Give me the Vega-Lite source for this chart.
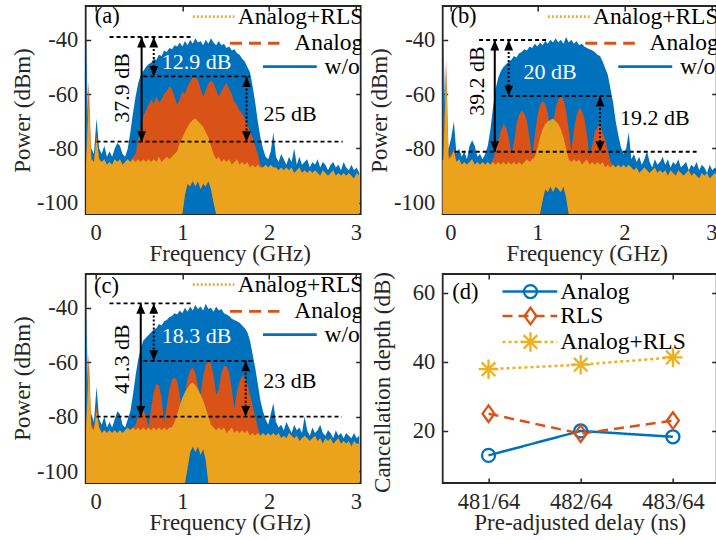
{
"$schema": "https://vega.github.io/schema/vega-lite/v6.json",
"padding": {"left": 10.7, "top": 4, "right": -2, "bottom": 4},
"columns": 2,
"spacing": {"row": 60, "column": 82},
"bounds": "flush",
"resolve": {"scale": {"color": "independent", "strokeDash": "independent", "shape": "independent", "size": "independent"}},
"config": {
 "font": "Liberation Serif",
 "view": {"stroke": "#262626", "strokeWidth": 1.8},
 "axis": {"domain": false, "grid": false, "ticks": true, "tickSize": -5, "tickWidth": 1.5, "tickColor": "#262626", "labelFont": "Liberation Serif", "labelFontSize": 22.5, "labelColor": "#262626", "labelOverlap": false, "labelFlush": false, "titleFont": "Liberation Serif", "titleFontSize": 23, "titleFontWeight": "normal", "titleColor": "#262626"},
 "axisX": {"labelPadding": 12.5},
 "axisY": {"labelPadding": 13},
 "text": {"font": "Liberation Serif"}
},
"datasets": {
"a": [
{"f":-0.11,"w":-40,"o":-86,"y":-86,"l":-104.1},{"f":-0.08,"w":-82,"o":-55,"y":-62,"l":-104.1},{"f":-0.05,"w":-80,"o":-84,"y":-84,"l":-104.1},{"f":-0.02,"w":-82,"o":-85,"y":-85,"l":-104.1},{"f":0.01,"w":-69,"o":-75,"y":-76,"l":-104.1},{"f":0.04,"w":-80,"o":-84,"y":-84,"l":-104.1},{"f":0.07,"w":-82,"o":-85,"y":-85,"l":-104.1},{"f":0.10,"w":-79,"o":-84,"y":-84,"l":-104.1},{"f":0.13,"w":-83,"o":-86,"y":-86,"l":-104.1},{"f":0.16,"w":-81,"o":-85,"y":-85,"l":-104.1},{"f":0.19,"w":-83,"o":-86,"y":-86,"l":-104.1},{"f":0.22,"w":-80,"o":-84,"y":-84,"l":-104.1},{"f":0.25,"w":-78,"o":-85,"y":-85,"l":-104.1},{"f":0.28,"w":-79,"o":-84,"y":-84,"l":-104.1},{"f":0.31,"w":-82,"o":-86,"y":-86,"l":-104.1},{"f":0.34,"w":-83,"o":-85,"y":-85,"l":-104.1},{"f":0.37,"w":-80,"o":-84,"y":-84,"l":-104.1},{"f":0.40,"w":-74,"o":-85,"y":-85,"l":-104.1},{"f":0.43,"w":-67,"o":-83,"y":-84,"l":-104.1},{"f":0.46,"w":-61,"o":-82,"y":-85,"l":-104.1},{"f":0.49,"w":-56,"o":-77,"y":-84,"l":-104.1},{"f":0.52,"w":-53,"o":-72,"y":-85,"l":-104.1},{"f":0.55,"w":-51.5,"o":-68,"y":-84,"l":-104.1},{"f":0.58,"w":-50,"o":-66,"y":-85,"l":-104.1},{"f":0.61,"w":-49,"o":-64,"y":-84,"l":-104.1},{"f":0.64,"w":-48.5,"o":-62,"y":-85,"l":-104.1},{"f":0.67,"w":-47,"o":-63.5,"y":-84,"l":-104.1},{"f":0.70,"w":-47.5,"o":-61,"y":-85,"l":-104.1},{"f":0.73,"w":-45.5,"o":-63,"y":-83,"l":-104.1},{"f":0.76,"w":-46,"o":-62,"y":-85,"l":-104.1},{"f":0.79,"w":-44,"o":-60,"y":-84,"l":-104.1},{"f":0.82,"w":-44.5,"o":-59,"y":-83,"l":-104.1},{"f":0.85,"w":-43,"o":-57,"y":-84,"l":-104.1},{"f":0.88,"w":-43.5,"o":-58,"y":-83,"l":-104.1},{"f":0.91,"w":-42,"o":-61,"y":-82,"l":-104.1},{"f":0.94,"w":-42.5,"o":-64,"y":-81,"l":-104.1},{"f":0.97,"w":-41,"o":-62,"y":-78,"l":-104.1},{"f":1.00,"w":-42.5,"o":-59,"y":-76,"l":-104.1},{"f":1.03,"w":-40.5,"o":-60,"y":-74,"l":-97},{"f":1.06,"w":-42,"o":-57,"y":-72,"l":-93},{"f":1.09,"w":-40,"o":-55.5,"y":-70.5,"l":-94},{"f":1.12,"w":-41.5,"o":-54,"y":-69.5,"l":-92},{"f":1.15,"w":-39.5,"o":-53.5,"y":-69,"l":-94},{"f":1.18,"w":-41,"o":-55,"y":-70,"l":-92},{"f":1.21,"w":-40.5,"o":-58,"y":-71,"l":-95},{"f":1.24,"w":-42,"o":-61,"y":-72,"l":-93},{"f":1.27,"w":-40,"o":-58.5,"y":-74,"l":-94},{"f":1.30,"w":-41.5,"o":-56,"y":-76,"l":-92},{"f":1.33,"w":-39.5,"o":-55,"y":-79,"l":-95},{"f":1.36,"w":-41,"o":-56,"y":-82,"l":-100},{"f":1.39,"w":-42,"o":-58.5,"y":-84,"l":-104.1},{"f":1.42,"w":-40.5,"o":-61,"y":-83,"l":-104.1},{"f":1.45,"w":-42,"o":-59,"y":-85,"l":-104.1},{"f":1.48,"w":-41.5,"o":-57,"y":-84,"l":-104.1},{"f":1.51,"w":-43,"o":-56,"y":-85,"l":-104.1},{"f":1.54,"w":-42.5,"o":-58,"y":-84,"l":-104.1},{"f":1.57,"w":-44,"o":-60,"y":-86,"l":-104.1},{"f":1.60,"w":-43.5,"o":-63,"y":-85,"l":-104.1},{"f":1.63,"w":-45,"o":-64,"y":-84,"l":-104.1},{"f":1.66,"w":-45.5,"o":-66,"y":-86,"l":-104.1},{"f":1.69,"w":-47,"o":-67,"y":-85,"l":-104.1},{"f":1.72,"w":-48,"o":-69,"y":-86,"l":-104.1},{"f":1.75,"w":-50,"o":-71,"y":-85,"l":-104.1},{"f":1.78,"w":-52,"o":-74,"y":-87,"l":-104.1},{"f":1.81,"w":-57,"o":-76,"y":-86,"l":-104.1},{"f":1.84,"w":-63,"o":-79,"y":-87,"l":-104.1},{"f":1.87,"w":-70,"o":-82,"y":-86,"l":-104.1},{"f":1.90,"w":-76,"o":-86,"y":-87,"l":-104.1},{"f":1.93,"w":-80,"o":-87,"y":-87,"l":-104.1},{"f":1.96,"w":-83,"o":-86,"y":-86,"l":-104.1},{"f":1.99,"w":-84,"o":-87,"y":-87,"l":-104.1},{"f":2.02,"w":-81,"o":-86,"y":-86,"l":-104.1},{"f":2.05,"w":-74,"o":-87,"y":-87,"l":-104.1},
{"f":2.08,"w":-83,"o":-87,"y":-87,"l":-104.1},{"f":2.11,"w":-85,"o":-88,"y":-88,"l":-104.1},{"f":2.14,"w":-82,"o":-87,"y":-87,"l":-104.1},{"f":2.17,"w":-84,"o":-88,"y":-88,"l":-104.1},{"f":2.20,"w":-86,"o":-87,"y":-87,"l":-104.1},{"f":2.23,"w":-83,"o":-88,"y":-88,"l":-104.1},{"f":2.26,"w":-85,"o":-87,"y":-87,"l":-104.1},{"f":2.29,"w":-80,"o":-89,"y":-89,"l":-104.1},{"f":2.32,"w":-86,"o":-88,"y":-88,"l":-104.1},{"f":2.35,"w":-83,"o":-87,"y":-87,"l":-104.1},{"f":2.38,"w":-86,"o":-89,"y":-89,"l":-104.1},{"f":2.41,"w":-85,"o":-88,"y":-88,"l":-104.1},{"f":2.44,"w":-84,"o":-89,"y":-89,"l":-104.1},{"f":2.47,"w":-87,"o":-88,"y":-88,"l":-104.1},{"f":2.50,"w":-85,"o":-89,"y":-89,"l":-104.1},{"f":2.53,"w":-86,"o":-88,"y":-88,"l":-104.1},{"f":2.56,"w":-84,"o":-89,"y":-89,"l":-104.1},{"f":2.59,"w":-87,"o":-90,"y":-90,"l":-104.1},{"f":2.62,"w":-85,"o":-88,"y":-88,"l":-104.1},{"f":2.65,"w":-86,"o":-89,"y":-89,"l":-104.1},{"f":2.68,"w":-88,"o":-90,"y":-90,"l":-104.1},{"f":2.71,"w":-86,"o":-89,"y":-89,"l":-104.1},{"f":2.74,"w":-85,"o":-88,"y":-88,"l":-104.1},{"f":2.77,"w":-87,"o":-90,"y":-90,"l":-104.1},{"f":2.80,"w":-86,"o":-89,"y":-89,"l":-104.1},{"f":2.83,"w":-88,"o":-90,"y":-90,"l":-104.1},{"f":2.86,"w":-85,"o":-89,"y":-89,"l":-104.1},{"f":2.89,"w":-87,"o":-90,"y":-90,"l":-104.1},{"f":2.92,"w":-88,"o":-89,"y":-89,"l":-104.1},{"f":2.95,"w":-86,"o":-90,"y":-90,"l":-104.1},{"f":2.98,"w":-88,"o":-91,"y":-91,"l":-104.1},{"f":3.01,"w":-87,"o":-89,"y":-89,"l":-104.1},{"f":3.04,"w":-89,"o":-90,"y":-90,"l":-104.1}
],
"b": [
{"f":-0.11,"w":-82,"o":-85,"y":-85,"l":-104.1},{"f":-0.08,"w":-40,"o":-84,"y":-84,"l":-104.1},{"f":-0.05,"w":-81,"o":-47,"y":-52,"l":-104.1},{"f":-0.02,"w":-80,"o":-83,"y":-84,"l":-104.1},{"f":0.01,"w":-76,"o":-82,"y":-83,"l":-104.1},{"f":0.04,"w":-70,"o":-80,"y":-81,"l":-104.1},{"f":0.07,"w":-82,"o":-85,"y":-85,"l":-104.1},{"f":0.10,"w":-80,"o":-84,"y":-84,"l":-104.1},{"f":0.13,"w":-83,"o":-86,"y":-86,"l":-104.1},{"f":0.16,"w":-81,"o":-85,"y":-85,"l":-104.1},{"f":0.19,"w":-84,"o":-86,"y":-86,"l":-104.1},{"f":0.22,"w":-79,"o":-85,"y":-85,"l":-104.1},{"f":0.25,"w":-77,"o":-84,"y":-84,"l":-104.1},{"f":0.28,"w":-79,"o":-86,"y":-86,"l":-104.1},{"f":0.31,"w":-83,"o":-85,"y":-85,"l":-104.1},{"f":0.34,"w":-82,"o":-86,"y":-86,"l":-104.1},{"f":0.37,"w":-84,"o":-85,"y":-85,"l":-104.1},{"f":0.40,"w":-82,"o":-86,"y":-86,"l":-104.1},{"f":0.43,"w":-79,"o":-85,"y":-85,"l":-104.1},{"f":0.46,"w":-73,"o":-86,"y":-86,"l":-104.1},{"f":0.49,"w":-65,"o":-84,"y":-85,"l":-104.1},{"f":0.52,"w":-58,"o":-81,"y":-86,"l":-104.1},{"f":0.55,"w":-54,"o":-77,"y":-85,"l":-104.1},{"f":0.58,"w":-51.5,"o":-73.5,"y":-86,"l":-104.1},{"f":0.61,"w":-50,"o":-71,"y":-85,"l":-104.1},{"f":0.64,"w":-49,"o":-72,"y":-86,"l":-104.1},{"f":0.67,"w":-48,"o":-76,"y":-85,"l":-104.1},{"f":0.70,"w":-47.5,"o":-82,"y":-86,"l":-104.1},{"f":0.73,"w":-46,"o":-78,"y":-85,"l":-104.1},{"f":0.76,"w":-46.5,"o":-71,"y":-86,"l":-104.1},{"f":0.79,"w":-45,"o":-67.5,"y":-85,"l":-104.1},{"f":0.82,"w":-44.5,"o":-66,"y":-86,"l":-104.1},{"f":0.85,"w":-43.5,"o":-67,"y":-85,"l":-104.1},{"f":0.88,"w":-44,"o":-70,"y":-84,"l":-104.1},{"f":0.91,"w":-42.5,"o":-76,"y":-85,"l":-104.1},{"f":0.94,"w":-43,"o":-83,"y":-84,"l":-104.1},{"f":0.97,"w":-41.5,"o":-75,"y":-83,"l":-104.1},{"f":1.00,"w":-42.5,"o":-68,"y":-80,"l":-104.1},{"f":1.03,"w":-41,"o":-64,"y":-76,"l":-104.1},{"f":1.06,"w":-42,"o":-62.5,"y":-73,"l":-99},{"f":1.09,"w":-40.5,"o":-63.5,"y":-71,"l":-95},{"f":1.12,"w":-41.5,"o":-67,"y":-70,"l":-96},{"f":1.15,"w":-40,"o":-74,"y":-69.5,"l":-94},{"f":1.18,"w":-41,"o":-71,"y":-69,"l":-96},{"f":1.21,"w":-39.5,"o":-65,"y":-70,"l":-94},{"f":1.24,"w":-41,"o":-62,"y":-71,"l":-95},{"f":1.27,"w":-40,"o":-60.8,"y":-73,"l":-96},{"f":1.30,"w":-41.5,"o":-62,"y":-76,"l":-94},{"f":1.33,"w":-39,"o":-66,"y":-80,"l":-98},{"f":1.36,"w":-41,"o":-73,"y":-84,"l":-104.1},{"f":1.39,"w":-40,"o":-81,"y":-85,"l":-104.1},{"f":1.42,"w":-41.5,"o":-73,"y":-84,"l":-104.1},{"f":1.45,"w":-40.5,"o":-68,"y":-85,"l":-104.1},{"f":1.48,"w":-42,"o":-65,"y":-84,"l":-104.1},{"f":1.51,"w":-41.5,"o":-66,"y":-86,"l":-104.1},{"f":1.54,"w":-42.5,"o":-69,"y":-85,"l":-104.1},{"f":1.57,"w":-43,"o":-75,"y":-84,"l":-104.1},{"f":1.60,"w":-43.5,"o":-83,"y":-86,"l":-104.1},{"f":1.63,"w":-44,"o":-79,"y":-85,"l":-104.1},{"f":1.66,"w":-44.5,"o":-74,"y":-86,"l":-104.1},{"f":1.69,"w":-45.5,"o":-72,"y":-85,"l":-104.1},{"f":1.72,"w":-46,"o":-71.5,"y":-86,"l":-104.1},{"f":1.75,"w":-48,"o":-74,"y":-85,"l":-104.1},{"f":1.78,"w":-50.5,"o":-77,"y":-87,"l":-104.1},{"f":1.81,"w":-53,"o":-81,"y":-86,"l":-104.1},{"f":1.84,"w":-58,"o":-85,"y":-87,"l":-104.1},{"f":1.87,"w":-63,"o":-86,"y":-86,"l":-104.1},{"f":1.90,"w":-70,"o":-87,"y":-87,"l":-104.1},{"f":1.93,"w":-75,"o":-86,"y":-86,"l":-104.1},{"f":1.96,"w":-79.5,"o":-87,"y":-87,"l":-104.1},{"f":1.99,"w":-82,"o":-86,"y":-86,"l":-104.1},{"f":2.02,"w":-80,"o":-87,"y":-87,"l":-104.1},{"f":2.05,"w":-74,"o":-86,"y":-86,"l":-104.1},
{"f":2.08,"w":-84,"o":-87,"y":-87,"l":-104.1},{"f":2.11,"w":-82,"o":-88,"y":-88,"l":-104.1},{"f":2.14,"w":-85,"o":-87,"y":-87,"l":-104.1},{"f":2.17,"w":-83,"o":-89,"y":-89,"l":-104.1},{"f":2.20,"w":-86,"o":-88,"y":-88,"l":-104.1},{"f":2.23,"w":-84,"o":-87,"y":-87,"l":-104.1},{"f":2.26,"w":-81,"o":-88,"y":-88,"l":-104.1},{"f":2.29,"w":-85,"o":-89,"y":-89,"l":-104.1},{"f":2.32,"w":-87,"o":-88,"y":-88,"l":-104.1},{"f":2.35,"w":-84,"o":-87,"y":-87,"l":-104.1},{"f":2.38,"w":-86,"o":-89,"y":-89,"l":-104.1},{"f":2.41,"w":-85,"o":-88,"y":-88,"l":-104.1},{"f":2.44,"w":-83,"o":-89,"y":-89,"l":-104.1},{"f":2.47,"w":-86,"o":-88,"y":-88,"l":-104.1},{"f":2.50,"w":-84,"o":-90,"y":-90,"l":-104.1},{"f":2.53,"w":-87,"o":-88,"y":-88,"l":-104.1},{"f":2.56,"w":-85,"o":-89,"y":-89,"l":-104.1},{"f":2.59,"w":-86,"o":-90,"y":-90,"l":-104.1},{"f":2.62,"w":-84,"o":-88,"y":-88,"l":-104.1},{"f":2.65,"w":-87,"o":-89,"y":-89,"l":-104.1},{"f":2.68,"w":-86,"o":-90,"y":-90,"l":-104.1},{"f":2.71,"w":-85,"o":-89,"y":-89,"l":-104.1},{"f":2.74,"w":-88,"o":-88,"y":-88,"l":-104.1},{"f":2.77,"w":-86,"o":-90,"y":-90,"l":-104.1},{"f":2.80,"w":-87,"o":-89,"y":-89,"l":-104.1},{"f":2.83,"w":-85,"o":-90,"y":-90,"l":-104.1},{"f":2.86,"w":-88,"o":-91,"y":-91,"l":-104.1},{"f":2.89,"w":-86,"o":-89,"y":-89,"l":-104.1},{"f":2.92,"w":-87,"o":-90,"y":-90,"l":-104.1},{"f":2.95,"w":-89,"o":-89,"y":-89,"l":-104.1},{"f":2.98,"w":-86,"o":-91,"y":-91,"l":-104.1},{"f":3.01,"w":-88,"o":-90,"y":-90,"l":-104.1},{"f":3.04,"w":-87,"o":-89,"y":-89,"l":-104.1},{"f":3.07,"w":-88,"o":-90,"y":-90,"l":-104.1}
],
"c": [
{"f":-0.11,"w":-40,"o":-85,"y":-85,"l":-104.4},{"f":-0.08,"w":-81,"o":-57,"y":-62,"l":-104.4},{"f":-0.05,"w":-79,"o":-83,"y":-84,"l":-104.4},{"f":-0.02,"w":-82,"o":-84,"y":-85,"l":-104.4},{"f":0.01,"w":-69,"o":-76,"y":-78,"l":-104.4},{"f":0.04,"w":-81,"o":-84,"y":-84,"l":-104.4},{"f":0.07,"w":-83,"o":-86,"y":-86,"l":-104.4},{"f":0.10,"w":-80,"o":-85,"y":-85,"l":-104.4},{"f":0.13,"w":-84,"o":-86,"y":-86,"l":-104.4},{"f":0.16,"w":-82,"o":-85,"y":-85,"l":-104.4},{"f":0.19,"w":-84,"o":-86,"y":-86,"l":-104.4},{"f":0.22,"w":-81,"o":-85,"y":-85,"l":-104.4},{"f":0.25,"w":-78,"o":-86,"y":-86,"l":-104.4},{"f":0.28,"w":-79,"o":-85,"y":-85,"l":-104.4},{"f":0.31,"w":-83,"o":-86,"y":-86,"l":-104.4},{"f":0.34,"w":-84,"o":-85,"y":-85,"l":-104.4},{"f":0.37,"w":-81,"o":-84,"y":-84,"l":-104.4},{"f":0.40,"w":-78,"o":-85,"y":-85,"l":-104.4},{"f":0.43,"w":-72,"o":-84,"y":-84,"l":-104.4},{"f":0.46,"w":-65,"o":-83,"y":-85,"l":-104.4},{"f":0.49,"w":-59,"o":-80,"y":-84,"l":-104.4},{"f":0.52,"w":-55,"o":-78,"y":-85,"l":-104.4},{"f":0.55,"w":-52,"o":-77.5,"y":-84,"l":-104.4},{"f":0.58,"w":-51,"o":-80,"y":-85,"l":-104.4},{"f":0.61,"w":-50,"o":-84,"y":-84,"l":-104.4},{"f":0.64,"w":-49,"o":-77,"y":-85,"l":-104.4},{"f":0.67,"w":-48,"o":-71,"y":-84,"l":-104.4},{"f":0.70,"w":-47.5,"o":-68,"y":-85,"l":-104.4},{"f":0.73,"w":-46,"o":-68.5,"y":-84,"l":-104.4},{"f":0.76,"w":-46.5,"o":-73,"y":-85,"l":-104.4},{"f":0.79,"w":-45,"o":-82,"y":-84,"l":-104.4},{"f":0.82,"w":-44.5,"o":-76,"y":-85,"l":-104.4},{"f":0.85,"w":-43.5,"o":-70,"y":-84,"l":-104.4},{"f":0.88,"w":-43,"o":-66.5,"y":-84,"l":-104.4},{"f":0.91,"w":-42,"o":-65.5,"y":-82,"l":-104.4},{"f":0.94,"w":-42.5,"o":-67,"y":-79,"l":-104.4},{"f":0.97,"w":-41,"o":-72,"y":-76,"l":-104.4},{"f":1.00,"w":-42,"o":-79,"y":-73,"l":-104.4},{"f":1.03,"w":-40,"o":-72,"y":-71,"l":-104.4},{"f":1.06,"w":-41.5,"o":-66,"y":-69.5,"l":-99},{"f":1.09,"w":-39.5,"o":-63,"y":-68,"l":-93},{"f":1.12,"w":-41,"o":-62,"y":-67.5,"l":-91},{"f":1.15,"w":-39,"o":-64,"y":-68.5,"l":-93},{"f":1.18,"w":-40.5,"o":-69,"y":-70,"l":-91},{"f":1.21,"w":-39.5,"o":-72,"y":-72,"l":-94},{"f":1.24,"w":-41,"o":-65,"y":-74,"l":-92},{"f":1.27,"w":-38.5,"o":-61,"y":-77,"l":-96},{"f":1.30,"w":-40.5,"o":-59.5,"y":-80,"l":-104.4},{"f":1.33,"w":-40,"o":-60.5,"y":-83,"l":-104.4},{"f":1.36,"w":-41.5,"o":-65,"y":-84,"l":-104.4},{"f":1.39,"w":-39.5,"o":-72,"y":-85,"l":-104.4},{"f":1.42,"w":-41,"o":-70,"y":-84,"l":-104.4},{"f":1.45,"w":-40.5,"o":-64,"y":-85,"l":-104.4},{"f":1.48,"w":-42,"o":-61.5,"y":-84,"l":-104.4},{"f":1.51,"w":-42.5,"o":-61.5,"y":-86,"l":-104.4},{"f":1.54,"w":-43,"o":-64,"y":-85,"l":-104.4},{"f":1.57,"w":-44,"o":-70,"y":-84,"l":-104.4},{"f":1.60,"w":-44.5,"o":-77,"y":-86,"l":-104.4},{"f":1.63,"w":-45,"o":-71,"y":-85,"l":-104.4},{"f":1.66,"w":-45.5,"o":-67,"y":-86,"l":-104.4},{"f":1.69,"w":-46.5,"o":-65,"y":-85,"l":-104.4},{"f":1.72,"w":-47.5,"o":-65.5,"y":-86,"l":-104.4},{"f":1.75,"w":-49,"o":-68,"y":-85,"l":-104.4},{"f":1.78,"w":-52,"o":-72,"y":-87,"l":-104.4},{"f":1.81,"w":-57,"o":-76,"y":-86,"l":-104.4},{"f":1.84,"w":-62,"o":-80,"y":-87,"l":-104.4},{"f":1.87,"w":-68,"o":-84,"y":-86,"l":-104.4},{"f":1.90,"w":-74,"o":-87,"y":-87,"l":-104.4},{"f":1.93,"w":-78,"o":-86,"y":-86,"l":-104.4},{"f":1.96,"w":-81,"o":-87,"y":-87,"l":-104.4},{"f":1.99,"w":-83,"o":-86,"y":-86,"l":-104.4},{"f":2.02,"w":-79,"o":-87,"y":-87,"l":-104.4},{"f":2.05,"w":-75,"o":-86,"y":-86,"l":-104.4},
{"f":2.08,"w":-82,"o":-87,"y":-87,"l":-104.4},{"f":2.11,"w":-84,"o":-86,"y":-86,"l":-104.4},{"f":2.14,"w":-83,"o":-88,"y":-88,"l":-104.4},{"f":2.17,"w":-85,"o":-87,"y":-87,"l":-104.4},{"f":2.20,"w":-82,"o":-88,"y":-88,"l":-104.4},{"f":2.23,"w":-84,"o":-86,"y":-86,"l":-104.4},{"f":2.26,"w":-86,"o":-87,"y":-87,"l":-104.4},{"f":2.29,"w":-83,"o":-88,"y":-88,"l":-104.4},{"f":2.32,"w":-85,"o":-87,"y":-87,"l":-104.4},{"f":2.35,"w":-84,"o":-89,"y":-89,"l":-104.4},{"f":2.38,"w":-86,"o":-88,"y":-88,"l":-104.4},{"f":2.41,"w":-80,"o":-87,"y":-87,"l":-104.4},{"f":2.44,"w":-85,"o":-88,"y":-88,"l":-104.4},{"f":2.47,"w":-87,"o":-89,"y":-89,"l":-104.4},{"f":2.50,"w":-84,"o":-88,"y":-88,"l":-104.4},{"f":2.53,"w":-86,"o":-87,"y":-87,"l":-104.4},{"f":2.56,"w":-85,"o":-89,"y":-89,"l":-104.4},{"f":2.59,"w":-83,"o":-88,"y":-88,"l":-104.4},{"f":2.62,"w":-86,"o":-90,"y":-90,"l":-104.4},{"f":2.65,"w":-87,"o":-88,"y":-88,"l":-104.4},{"f":2.68,"w":-85,"o":-89,"y":-89,"l":-104.4},{"f":2.71,"w":-86,"o":-88,"y":-88,"l":-104.4},{"f":2.74,"w":-88,"o":-90,"y":-90,"l":-104.4},{"f":2.77,"w":-85,"o":-89,"y":-89,"l":-104.4},{"f":2.80,"w":-87,"o":-88,"y":-88,"l":-104.4},{"f":2.83,"w":-86,"o":-90,"y":-90,"l":-104.4},{"f":2.86,"w":-88,"o":-89,"y":-89,"l":-104.4},{"f":2.89,"w":-86,"o":-90,"y":-90,"l":-104.4},{"f":2.92,"w":-87,"o":-89,"y":-89,"l":-104.4},{"f":2.95,"w":-88,"o":-91,"y":-91,"l":-104.4},{"f":2.98,"w":-86,"o":-89,"y":-89,"l":-104.4},{"f":3.01,"w":-88,"o":-90,"y":-90,"l":-104.4},{"f":3.04,"w":-87,"o":-90,"y":-90,"l":-104.4}
],
"hl": [
{"p":"a","x1":0.16,"x2":1.13,"y":-39},{"p":"a","x1":0.55,"x2":1.78,"y":-53.5},{"p":"a","x1":0.01,"x2":2.85,"y":-77.5},
{"p":"b","x1":0.33,"x2":1.10,"y":-40.1},{"p":"b","x1":0.59,"x2":1.87,"y":-60.7},{"p":"b","x1":0.05,"x2":2.83,"y":-81.2},
{"p":"c","x1":0.16,"x2":1.13,"y":-38.4},{"p":"c","x1":0.55,"x2":1.83,"y":-59.5},{"p":"c","x1":0.01,"x2":2.84,"y":-80}
],
"arr": [
{"p":"a","x":0.53,"y1":-39,"y2":-77.5,"k":"s"},{"p":"a","x":0.67,"y1":-39,"y2":-53.5,"k":"d"},{"p":"a","x":1.74,"y1":-53.5,"y2":-77.5,"k":"d"},
{"p":"b","x":0.51,"y1":-40.1,"y2":-81.2,"k":"s"},{"p":"b","x":0.67,"y1":-40.1,"y2":-60.7,"k":"d"},{"p":"b","x":1.72,"y1":-60.7,"y2":-81.2,"k":"d"},
{"p":"c","x":0.52,"y1":-38.4,"y2":-80,"k":"s"},{"p":"c","x":0.67,"y1":-38.4,"y2":-59.5,"k":"d"},{"p":"c","x":1.73,"y1":-59.5,"y2":-80,"k":"d"}
],
"lab": [
{"p":"a","x":0.306,"y":-57.7,"t":"37.9 dB","c":"black","a":270},{"p":"a","x":1.165,"y":-48.2,"t":"12.9 dB","c":"white","a":0},{"p":"a","x":2.243,"y":-67.5,"t":"25 dB","c":"black","a":0},
{"p":"b","x":0.31,"y":-55.2,"t":"39.2 dB","c":"black","a":270},{"p":"b","x":1.147,"y":-51.9,"t":"20 dB","c":"white","a":0},{"p":"b","x":2.35,"y":-68.7,"t":"19.2 dB","c":"black","a":0},
{"p":"c","x":0.306,"y":-58.9,"t":"41.3 dB","c":"black","a":270},{"p":"c","x":1.165,"y":-50.3,"t":"18.3 dB","c":"white","a":0},{"p":"c","x":2.24,"y":-66.8,"t":"23 dB","c":"black","a":0}
],
"pl": [
{"p":"a","x":-0.01,"y":-31.3,"t":"(a)"},{"p":"b","x":0.0,"y":-31.3,"t":"(b)"},{"p":"c","x":-0.02,"y":-32,"t":"(c)"}
],
"leg": [
{"s":"Analog+RLS","x1":1.12,"x2":1.6,"tx":1.64,"y":-31.5},
{"s":"Analog","x1":1.55,"x2":2.12,"tx":2.29,"y":-41.3},
{"s":"w/o","x1":1.93,"x2":2.55,"tx":2.64,"y":-49.9}
],
"d": [
{"k":1,"v":12.9,"s":"Analog"},{"k":2,"v":20,"s":"Analog"},{"k":3,"v":18.3,"s":"Analog"},
{"k":1,"v":25,"s":"RLS"},{"k":2,"v":19.2,"s":"RLS"},{"k":3,"v":23,"s":"RLS"},
{"k":1,"v":37.9,"s":"Analog+RLS"},{"k":2,"v":39.2,"s":"Analog+RLS"},{"k":3,"v":41.3,"s":"Analog+RLS"}
],
"dleg": [
{"s":"Analog","x1":1.152,"x2":1.746,"xm":1.455,"tx":1.779,"y":60.4},
{"s":"RLS","x1":1.152,"x2":1.746,"xm":1.455,"tx":1.779,"y":53.3},
{"s":"Analog+RLS","x1":1.152,"x2":1.746,"xm":1.455,"tx":1.779,"y":45.8}
]
},
"concat": [
{
 "width": 275, "height": 208,
 "resolve": {"axis": {"x": "independent", "y": "independent"}, "scale": {"strokeDash": "independent", "color": "independent"}},
 "layer": [
  {"data": {"name": "a"}, "mark": {"type": "area", "color": "#0072BD", "clip": true},
   "encoding": {
    "x": {"field": "f", "type": "quantitative", "scale": {"domain": [-0.115, 3.057], "nice": false, "zero": false}, "axis": {"values": [0,1,2,3], "title": "Frequency (GHz)", "titleX": 144, "titleY": 46.5, "titleBaseline": "alphabetic", "titleAlign": "center"}},
    "y": {"field": "w", "type": "quantitative", "scale": {"domain": [-104.1, -27.6], "nice": false, "zero": false}, "axis": {"values": [-100,-80,-60,-40], "labelExpr": "datum.value < 0 ? '-' + abs(datum.value) : '' + datum.value", "title": "Power (dBm)", "titleX": -56, "titleY": 104, "titleAngle": 270, "titleBaseline": "alphabetic", "titleAlign": "center"}},
    "y2": {"datum": -104.1}}},
  {"data": {"name": "a"}, "mark": {"type": "area", "color": "#D95319", "clip": true},
   "encoding": {"x": {"field": "f", "type": "quantitative", "scale": {"domain": [-0.115, 3.057], "nice": false, "zero": false}, "axis": null}, "y": {"field": "o", "type": "quantitative", "scale": {"domain": [-104.1, -27.6], "nice": false, "zero": false}, "axis": null}, "y2": {"field": "l"}}},
  {"data": {"name": "a"}, "mark": {"type": "area", "color": "#EDB120", "opacity": 0.85, "clip": true},
   "encoding": {"x": {"field": "f", "type": "quantitative", "scale": {"domain": [-0.115, 3.057], "nice": false, "zero": false}, "axis": null}, "y": {"field": "y", "type": "quantitative", "scale": {"domain": [-104.1, -27.6], "nice": false, "zero": false}, "axis": null}, "y2": {"field": "l"}}},
  {"data": {"name": "hl"}, "transform": [{"filter": "datum.p == 'a'"}], "mark": {"type": "rule", "color": "black", "strokeWidth": 1.8, "strokeDash": [4, 3]},
   "encoding": {"x": {"field": "x1", "type": "quantitative", "scale": {"domain": [-0.115, 3.057], "nice": false, "zero": false}, "axis": null}, "x2": {"field": "x2"}, "y": {"field": "y", "type": "quantitative", "scale": {"domain": [-104.1, -27.6], "nice": false, "zero": false}, "axis": null}}},
  {"data": {"name": "arr"}, "transform": [{"filter": "datum.p == 'a'"}], "mark": {"type": "rule", "color": "black", "strokeWidth": 2},
   "encoding": {"x": {"field": "x", "type": "quantitative", "scale": {"domain": [-0.115, 3.057], "nice": false, "zero": false}, "axis": null}, "y": {"field": "y1", "type": "quantitative", "scale": {"domain": [-104.1, -27.6], "nice": false, "zero": false}, "axis": null}, "y2": {"field": "y2"}, "strokeDash": {"field": "k", "type": "nominal", "scale": {"domain": ["s", "d"], "range": [[1, 0], [2, 2]]}, "legend": null}}},
  {"data": {"name": "arr"}, "transform": [{"filter": "datum.p == 'a'"}], "mark": {"type": "point", "shape": "M0,0L0.55,1.3L-0.55,1.3Z", "filled": true, "color": "black", "opacity": 1, "size": 260, "strokeWidth": 0},
   "encoding": {"x": {"field": "x", "type": "quantitative", "scale": {"domain": [-0.115, 3.057], "nice": false, "zero": false}, "axis": null}, "y": {"field": "y1", "type": "quantitative", "scale": {"domain": [-104.1, -27.6], "nice": false, "zero": false}, "axis": null}}},
  {"data": {"name": "arr"}, "transform": [{"filter": "datum.p == 'a'"}], "mark": {"type": "point", "shape": "M0,0L0.55,-1.3L-0.55,-1.3Z", "filled": true, "color": "black", "opacity": 1, "size": 260, "strokeWidth": 0},
   "encoding": {"x": {"field": "x", "type": "quantitative", "scale": {"domain": [-0.115, 3.057], "nice": false, "zero": false}, "axis": null}, "y": {"field": "y2", "type": "quantitative", "scale": {"domain": [-104.1, -27.6], "nice": false, "zero": false}, "axis": null}}},
  {"data": {"name": "lab"}, "transform": [{"filter": "datum.p == 'a'"}], "mark": {"type": "text", "fontSize": 22, "align": "center", "baseline": "middle"},
   "encoding": {"x": {"field": "x", "type": "quantitative", "scale": {"domain": [-0.115, 3.057], "nice": false, "zero": false}, "axis": null}, "y": {"field": "y", "type": "quantitative", "scale": {"domain": [-104.1, -27.6], "nice": false, "zero": false}, "axis": null}, "text": {"field": "t"}, "color": {"field": "c", "type": "nominal", "scale": null}, "angle": {"field": "a", "type": "quantitative", "scale": null}}},
  {"data": {"name": "leg"}, "mark": {"type": "rule", "strokeWidth": 2.8, "clip": true},
   "encoding": {"x": {"field": "x1", "type": "quantitative", "scale": {"domain": [-0.115, 3.057], "nice": false, "zero": false}, "axis": null}, "x2": {"field": "x2"}, "y": {"field": "y", "type": "quantitative", "scale": {"domain": [-104.1, -27.6], "nice": false, "zero": false}, "axis": null}, "color": {"field": "s", "type": "nominal", "scale": {"domain": ["Analog+RLS", "Analog", "w/o"], "range": ["#EDB120", "#D95319", "#0072BD"]}, "legend": null}, "strokeDash": {"field": "s", "type": "nominal", "scale": {"domain": ["Analog+RLS", "Analog", "w/o"], "range": [[2, 2], [12, 7], [1, 0]]}, "legend": null}}},
  {"data": {"name": "leg"}, "mark": {"type": "text", "fontSize": 23.5, "align": "left", "baseline": "middle", "color": "black", "clip": true},
   "encoding": {"x": {"field": "tx", "type": "quantitative", "scale": {"domain": [-0.115, 3.057], "nice": false, "zero": false}, "axis": null}, "y": {"field": "y", "type": "quantitative", "scale": {"domain": [-104.1, -27.6], "nice": false, "zero": false}, "axis": null}, "text": {"field": "s"}}},
  {"data": {"name": "pl"}, "transform": [{"filter": "datum.p == 'a'"}], "mark": {"type": "text", "fontSize": 22.5, "align": "left", "baseline": "middle", "color": "black"},
   "encoding": {"x": {"field": "x", "type": "quantitative", "scale": {"domain": [-0.115, 3.057], "nice": false, "zero": false}, "axis": {"orient": "top", "values": [0,1,2,3], "labels": false, "title": null}}, "y": {"field": "y", "type": "quantitative", "scale": {"domain": [-104.1, -27.6], "nice": false, "zero": false}, "axis": {"orient": "right", "values": [-100,-80,-60,-40], "labels": false, "title": null}}, "text": {"field": "t"}}}
 ]
},
{
 "width": 274, "height": 208,
 "resolve": {"axis": {"x": "independent", "y": "independent"}, "scale": {"strokeDash": "independent", "color": "independent"}},
 "layer": [
  {"data": {"name": "b"}, "mark": {"type": "area", "color": "#0072BD", "clip": true},
   "encoding": {
    "x": {"field": "f", "type": "quantitative", "scale": {"domain": [-0.0885, 3.061], "nice": false, "zero": false}, "axis": {"values": [0,1,2,3], "title": "Frequency (GHz)", "titleX": 144, "titleY": 46.5, "titleBaseline": "alphabetic", "titleAlign": "center"}},
    "y": {"field": "w", "type": "quantitative", "scale": {"domain": [-104.1, -27.6], "nice": false, "zero": false}, "axis": {"values": [-100,-80,-60,-40], "labelExpr": "datum.value < 0 ? '-' + abs(datum.value) : '' + datum.value", "title": "Power (dBm)", "titleX": -56, "titleY": 104, "titleAngle": 270, "titleBaseline": "alphabetic", "titleAlign": "center"}},
    "y2": {"datum": -104.1}}},
  {"data": {"name": "b"}, "mark": {"type": "area", "color": "#D95319", "clip": true},
   "encoding": {"x": {"field": "f", "type": "quantitative", "scale": {"domain": [-0.0885, 3.061], "nice": false, "zero": false}, "axis": null}, "y": {"field": "o", "type": "quantitative", "scale": {"domain": [-104.1, -27.6], "nice": false, "zero": false}, "axis": null}, "y2": {"field": "l"}}},
  {"data": {"name": "b"}, "mark": {"type": "area", "color": "#EDB120", "opacity": 0.85, "clip": true},
   "encoding": {"x": {"field": "f", "type": "quantitative", "scale": {"domain": [-0.0885, 3.061], "nice": false, "zero": false}, "axis": null}, "y": {"field": "y", "type": "quantitative", "scale": {"domain": [-104.1, -27.6], "nice": false, "zero": false}, "axis": null}, "y2": {"field": "l"}}},
  {"data": {"name": "hl"}, "transform": [{"filter": "datum.p == 'b'"}], "mark": {"type": "rule", "color": "black", "strokeWidth": 1.8, "strokeDash": [4, 3]},
   "encoding": {"x": {"field": "x1", "type": "quantitative", "scale": {"domain": [-0.0885, 3.061], "nice": false, "zero": false}, "axis": null}, "x2": {"field": "x2"}, "y": {"field": "y", "type": "quantitative", "scale": {"domain": [-104.1, -27.6], "nice": false, "zero": false}, "axis": null}}},
  {"data": {"name": "arr"}, "transform": [{"filter": "datum.p == 'b'"}], "mark": {"type": "rule", "color": "black", "strokeWidth": 2},
   "encoding": {"x": {"field": "x", "type": "quantitative", "scale": {"domain": [-0.0885, 3.061], "nice": false, "zero": false}, "axis": null}, "y": {"field": "y1", "type": "quantitative", "scale": {"domain": [-104.1, -27.6], "nice": false, "zero": false}, "axis": null}, "y2": {"field": "y2"}, "strokeDash": {"field": "k", "type": "nominal", "scale": {"domain": ["s", "d"], "range": [[1, 0], [2, 2]]}, "legend": null}}},
  {"data": {"name": "arr"}, "transform": [{"filter": "datum.p == 'b'"}], "mark": {"type": "point", "shape": "M0,0L0.55,1.3L-0.55,1.3Z", "filled": true, "color": "black", "opacity": 1, "size": 260, "strokeWidth": 0},
   "encoding": {"x": {"field": "x", "type": "quantitative", "scale": {"domain": [-0.0885, 3.061], "nice": false, "zero": false}, "axis": null}, "y": {"field": "y1", "type": "quantitative", "scale": {"domain": [-104.1, -27.6], "nice": false, "zero": false}, "axis": null}}},
  {"data": {"name": "arr"}, "transform": [{"filter": "datum.p == 'b'"}], "mark": {"type": "point", "shape": "M0,0L0.55,-1.3L-0.55,-1.3Z", "filled": true, "color": "black", "opacity": 1, "size": 260, "strokeWidth": 0},
   "encoding": {"x": {"field": "x", "type": "quantitative", "scale": {"domain": [-0.0885, 3.061], "nice": false, "zero": false}, "axis": null}, "y": {"field": "y2", "type": "quantitative", "scale": {"domain": [-104.1, -27.6], "nice": false, "zero": false}, "axis": null}}},
  {"data": {"name": "lab"}, "transform": [{"filter": "datum.p == 'b'"}], "mark": {"type": "text", "fontSize": 22, "align": "center", "baseline": "middle"},
   "encoding": {"x": {"field": "x", "type": "quantitative", "scale": {"domain": [-0.0885, 3.061], "nice": false, "zero": false}, "axis": null}, "y": {"field": "y", "type": "quantitative", "scale": {"domain": [-104.1, -27.6], "nice": false, "zero": false}, "axis": null}, "text": {"field": "t"}, "color": {"field": "c", "type": "nominal", "scale": null}, "angle": {"field": "a", "type": "quantitative", "scale": null}}},
  {"data": {"name": "leg"}, "mark": {"type": "rule", "strokeWidth": 2.8, "clip": true},
   "encoding": {"x": {"field": "x1", "type": "quantitative", "scale": {"domain": [-0.0885, 3.061], "nice": false, "zero": false}, "axis": null}, "x2": {"field": "x2"}, "y": {"field": "y", "type": "quantitative", "scale": {"domain": [-104.1, -27.6], "nice": false, "zero": false}, "axis": null}, "color": {"field": "s", "type": "nominal", "scale": {"domain": ["Analog+RLS", "Analog", "w/o"], "range": ["#EDB120", "#D95319", "#0072BD"]}, "legend": null}, "strokeDash": {"field": "s", "type": "nominal", "scale": {"domain": ["Analog+RLS", "Analog", "w/o"], "range": [[2, 2], [12, 7], [1, 0]]}, "legend": null}}},
  {"data": {"name": "leg"}, "mark": {"type": "text", "fontSize": 23.5, "align": "left", "baseline": "middle", "color": "black", "clip": true},
   "encoding": {"x": {"field": "tx", "type": "quantitative", "scale": {"domain": [-0.0885, 3.061], "nice": false, "zero": false}, "axis": null}, "y": {"field": "y", "type": "quantitative", "scale": {"domain": [-104.1, -27.6], "nice": false, "zero": false}, "axis": null}, "text": {"field": "s"}}},
  {"data": {"name": "pl"}, "transform": [{"filter": "datum.p == 'b'"}], "mark": {"type": "text", "fontSize": 22.5, "align": "left", "baseline": "middle", "color": "black"},
   "encoding": {"x": {"field": "x", "type": "quantitative", "scale": {"domain": [-0.0885, 3.061], "nice": false, "zero": false}, "axis": {"orient": "top", "values": [0,1,2,3], "labels": false, "title": null}}, "y": {"field": "y", "type": "quantitative", "scale": {"domain": [-104.1, -27.6], "nice": false, "zero": false}, "axis": {"orient": "right", "values": [-100,-80,-60,-40], "labels": false, "title": null}}, "text": {"field": "t"}}}
 ]
},
{
 "width": 275, "height": 209,
 "resolve": {"axis": {"x": "independent", "y": "independent"}, "scale": {"strokeDash": "independent", "color": "independent"}},
 "layer": [
  {"data": {"name": "c"}, "mark": {"type": "area", "color": "#0072BD", "clip": true},
   "encoding": {
    "x": {"field": "f", "type": "quantitative", "scale": {"domain": [-0.115, 3.057], "nice": false, "zero": false}, "axis": {"values": [0,1,2,3], "title": "Frequency (GHz)", "titleX": 144, "titleY": 46.5, "titleBaseline": "alphabetic", "titleAlign": "center"}},
    "y": {"field": "w", "type": "quantitative", "scale": {"domain": [-104.4, -27.6], "nice": false, "zero": false}, "axis": {"values": [-100,-80,-60,-40], "labelExpr": "datum.value < 0 ? '-' + abs(datum.value) : '' + datum.value", "title": "Power (dBm)", "titleX": -56, "titleY": 104, "titleAngle": 270, "titleBaseline": "alphabetic", "titleAlign": "center"}},
    "y2": {"datum": -104.4}}},
  {"data": {"name": "c"}, "mark": {"type": "area", "color": "#D95319", "clip": true},
   "encoding": {"x": {"field": "f", "type": "quantitative", "scale": {"domain": [-0.115, 3.057], "nice": false, "zero": false}, "axis": null}, "y": {"field": "o", "type": "quantitative", "scale": {"domain": [-104.4, -27.6], "nice": false, "zero": false}, "axis": null}, "y2": {"field": "l"}}},
  {"data": {"name": "c"}, "mark": {"type": "area", "color": "#EDB120", "opacity": 0.85, "clip": true},
   "encoding": {"x": {"field": "f", "type": "quantitative", "scale": {"domain": [-0.115, 3.057], "nice": false, "zero": false}, "axis": null}, "y": {"field": "y", "type": "quantitative", "scale": {"domain": [-104.4, -27.6], "nice": false, "zero": false}, "axis": null}, "y2": {"field": "l"}}},
  {"data": {"name": "hl"}, "transform": [{"filter": "datum.p == 'c'"}], "mark": {"type": "rule", "color": "black", "strokeWidth": 1.8, "strokeDash": [4, 3]},
   "encoding": {"x": {"field": "x1", "type": "quantitative", "scale": {"domain": [-0.115, 3.057], "nice": false, "zero": false}, "axis": null}, "x2": {"field": "x2"}, "y": {"field": "y", "type": "quantitative", "scale": {"domain": [-104.4, -27.6], "nice": false, "zero": false}, "axis": null}}},
  {"data": {"name": "arr"}, "transform": [{"filter": "datum.p == 'c'"}], "mark": {"type": "rule", "color": "black", "strokeWidth": 2},
   "encoding": {"x": {"field": "x", "type": "quantitative", "scale": {"domain": [-0.115, 3.057], "nice": false, "zero": false}, "axis": null}, "y": {"field": "y1", "type": "quantitative", "scale": {"domain": [-104.4, -27.6], "nice": false, "zero": false}, "axis": null}, "y2": {"field": "y2"}, "strokeDash": {"field": "k", "type": "nominal", "scale": {"domain": ["s", "d"], "range": [[1, 0], [2, 2]]}, "legend": null}}},
  {"data": {"name": "arr"}, "transform": [{"filter": "datum.p == 'c'"}], "mark": {"type": "point", "shape": "M0,0L0.55,1.3L-0.55,1.3Z", "filled": true, "color": "black", "opacity": 1, "size": 260, "strokeWidth": 0},
   "encoding": {"x": {"field": "x", "type": "quantitative", "scale": {"domain": [-0.115, 3.057], "nice": false, "zero": false}, "axis": null}, "y": {"field": "y1", "type": "quantitative", "scale": {"domain": [-104.4, -27.6], "nice": false, "zero": false}, "axis": null}}},
  {"data": {"name": "arr"}, "transform": [{"filter": "datum.p == 'c'"}], "mark": {"type": "point", "shape": "M0,0L0.55,-1.3L-0.55,-1.3Z", "filled": true, "color": "black", "opacity": 1, "size": 260, "strokeWidth": 0},
   "encoding": {"x": {"field": "x", "type": "quantitative", "scale": {"domain": [-0.115, 3.057], "nice": false, "zero": false}, "axis": null}, "y": {"field": "y2", "type": "quantitative", "scale": {"domain": [-104.4, -27.6], "nice": false, "zero": false}, "axis": null}}},
  {"data": {"name": "lab"}, "transform": [{"filter": "datum.p == 'c'"}], "mark": {"type": "text", "fontSize": 22, "align": "center", "baseline": "middle"},
   "encoding": {"x": {"field": "x", "type": "quantitative", "scale": {"domain": [-0.115, 3.057], "nice": false, "zero": false}, "axis": null}, "y": {"field": "y", "type": "quantitative", "scale": {"domain": [-104.4, -27.6], "nice": false, "zero": false}, "axis": null}, "text": {"field": "t"}, "color": {"field": "c", "type": "nominal", "scale": null}, "angle": {"field": "a", "type": "quantitative", "scale": null}}},
  {"data": {"name": "leg"}, "mark": {"type": "rule", "strokeWidth": 2.8, "clip": true},
   "encoding": {"x": {"field": "x1", "type": "quantitative", "scale": {"domain": [-0.115, 3.057], "nice": false, "zero": false}, "axis": null}, "x2": {"field": "x2"}, "y": {"field": "y", "type": "quantitative", "scale": {"domain": [-104.4, -27.6], "nice": false, "zero": false}, "axis": null}, "color": {"field": "s", "type": "nominal", "scale": {"domain": ["Analog+RLS", "Analog", "w/o"], "range": ["#EDB120", "#D95319", "#0072BD"]}, "legend": null}, "strokeDash": {"field": "s", "type": "nominal", "scale": {"domain": ["Analog+RLS", "Analog", "w/o"], "range": [[2, 2], [12, 7], [1, 0]]}, "legend": null}}},
  {"data": {"name": "leg"}, "mark": {"type": "text", "fontSize": 23.5, "align": "left", "baseline": "middle", "color": "black", "clip": true},
   "encoding": {"x": {"field": "tx", "type": "quantitative", "scale": {"domain": [-0.115, 3.057], "nice": false, "zero": false}, "axis": null}, "y": {"field": "y", "type": "quantitative", "scale": {"domain": [-104.4, -27.6], "nice": false, "zero": false}, "axis": null}, "text": {"field": "s"}}},
  {"data": {"name": "pl"}, "transform": [{"filter": "datum.p == 'c'"}], "mark": {"type": "text", "fontSize": 22.5, "align": "left", "baseline": "middle", "color": "black"},
   "encoding": {"x": {"field": "x", "type": "quantitative", "scale": {"domain": [-0.115, 3.057], "nice": false, "zero": false}, "axis": {"orient": "top", "values": [0,1,2,3], "labels": false, "title": null}}, "y": {"field": "y", "type": "quantitative", "scale": {"domain": [-104.4, -27.6], "nice": false, "zero": false}, "axis": {"orient": "right", "values": [-100,-80,-60,-40], "labels": false, "title": null}}, "text": {"field": "t"}}}
 ]
},
{
 "width": 274, "height": 209,
 "resolve": {"axis": {"x": "independent", "y": "independent"}},
 "layer": [
  {"data": {"name": "d"}, "mark": {"type": "line", "strokeWidth": 2.5},
   "encoding": {
    "x": {"field": "k", "type": "quantitative", "scale": {"domain": [0.503, 3.475], "nice": false, "zero": false}, "axis": {"values": [1,2,3], "labelExpr": "datum.value == 1 ? '481/64' : datum.value == 2 ? '482/64' : '483/64'", "title": "Pre-adjusted delay (ns)", "titleX": 137, "titleY": 46.5, "titleBaseline": "alphabetic", "titleAlign": "center"}},
    "y": {"field": "v", "type": "quantitative", "scale": {"domain": [4.9, 65.5], "nice": false, "zero": false}, "axis": {"values": [20,40,60], "title": "Cancellation depth (dB)", "titleX": -53, "titleY": 108, "titleAngle": 270, "titleBaseline": "alphabetic", "titleAlign": "center"}},
    "color": {"field": "s", "type": "nominal", "scale": {"domain": ["Analog", "RLS", "Analog+RLS"], "range": ["#0072BD", "#D95319", "#EDB120"]}, "legend": null},
    "strokeDash": {"field": "s", "type": "nominal", "scale": {"domain": ["Analog", "RLS", "Analog+RLS"], "range": [[1, 0], [10, 6], [3, 3]]}, "legend": null}}},
  {"data": {"name": "d"}, "mark": {"type": "point", "filled": false, "opacity": 1, "strokeWidth": 2.3},
   "encoding": {
    "x": {"field": "k", "type": "quantitative", "scale": {"domain": [0.503, 3.475], "nice": false, "zero": false}, "axis": null},
    "y": {"field": "v", "type": "quantitative", "scale": {"domain": [4.9, 65.5], "nice": false, "zero": false}, "axis": null},
    "color": {"field": "s", "type": "nominal", "scale": {"domain": ["Analog", "RLS", "Analog+RLS"], "range": ["#0072BD", "#D95319", "#EDB120"]}, "legend": null},
    "shape": {"field": "s", "type": "nominal", "scale": {"domain": ["Analog", "RLS", "Analog+RLS"], "range": ["circle", "M0,-1L0.72,0L0,1L-0.72,0Z", "M0,-1L0,1M-1,0L1,0M-0.7,-0.7L0.7,0.7M-0.7,0.7L0.7,-0.7"]}, "legend": null},
    "size": {"field": "s", "type": "nominal", "scale": {"domain": ["Analog", "RLS", "Analog+RLS"], "range": [169, 380, 256]}, "legend": null}}},
  {"data": {"name": "dleg"}, "mark": {"type": "rule", "strokeWidth": 2.5},
   "encoding": {
    "x": {"field": "x1", "type": "quantitative", "scale": {"domain": [0.503, 3.475], "nice": false, "zero": false}, "axis": null}, "x2": {"field": "x2"},
    "y": {"field": "y", "type": "quantitative", "scale": {"domain": [4.9, 65.5], "nice": false, "zero": false}, "axis": null},
    "color": {"field": "s", "type": "nominal", "scale": {"domain": ["Analog", "RLS", "Analog+RLS"], "range": ["#0072BD", "#D95319", "#EDB120"]}, "legend": null},
    "strokeDash": {"field": "s", "type": "nominal", "scale": {"domain": ["Analog", "RLS", "Analog+RLS"], "range": [[1, 0], [10, 6], [3, 3]]}, "legend": null}}},
  {"data": {"name": "dleg"}, "mark": {"type": "point", "filled": false, "opacity": 1, "strokeWidth": 2.3},
   "encoding": {
    "x": {"field": "xm", "type": "quantitative", "scale": {"domain": [0.503, 3.475], "nice": false, "zero": false}, "axis": null},
    "y": {"field": "y", "type": "quantitative", "scale": {"domain": [4.9, 65.5], "nice": false, "zero": false}, "axis": null},
    "color": {"field": "s", "type": "nominal", "scale": {"domain": ["Analog", "RLS", "Analog+RLS"], "range": ["#0072BD", "#D95319", "#EDB120"]}, "legend": null},
    "shape": {"field": "s", "type": "nominal", "scale": {"domain": ["Analog", "RLS", "Analog+RLS"], "range": ["circle", "M0,-1L0.72,0L0,1L-0.72,0Z", "M0,-1L0,1M-1,0L1,0M-0.7,-0.7L0.7,0.7M-0.7,0.7L0.7,-0.7"]}, "legend": null},
    "size": {"field": "s", "type": "nominal", "scale": {"domain": ["Analog", "RLS", "Analog+RLS"], "range": [169, 380, 256]}, "legend": null}}},
  {"data": {"name": "dleg"}, "mark": {"type": "text", "fontSize": 23.5, "align": "left", "baseline": "middle", "color": "black", "clip": true},
   "encoding": {
    "x": {"field": "tx", "type": "quantitative", "scale": {"domain": [0.503, 3.475], "nice": false, "zero": false}, "axis": null},
    "y": {"field": "y", "type": "quantitative", "scale": {"domain": [4.9, 65.5], "nice": false, "zero": false}, "axis": null},
    "text": {"field": "s"}}},
  {"data": {"values": [{"x": 0.608, "y": 60.4, "t": "(d)"}]}, "mark": {"type": "text", "fontSize": 22.5, "align": "left", "baseline": "middle", "color": "black"},
   "encoding": {
    "x": {"field": "x", "type": "quantitative", "scale": {"domain": [0.503, 3.475], "nice": false, "zero": false}, "axis": {"orient": "top", "values": [1,2,3], "labels": false, "title": null}},
    "y": {"field": "y", "type": "quantitative", "scale": {"domain": [4.9, 65.5], "nice": false, "zero": false}, "axis": {"orient": "right", "values": [20,40,60], "labels": false, "title": null}},
    "text": {"field": "t"}}}
 ]
}
]
}
